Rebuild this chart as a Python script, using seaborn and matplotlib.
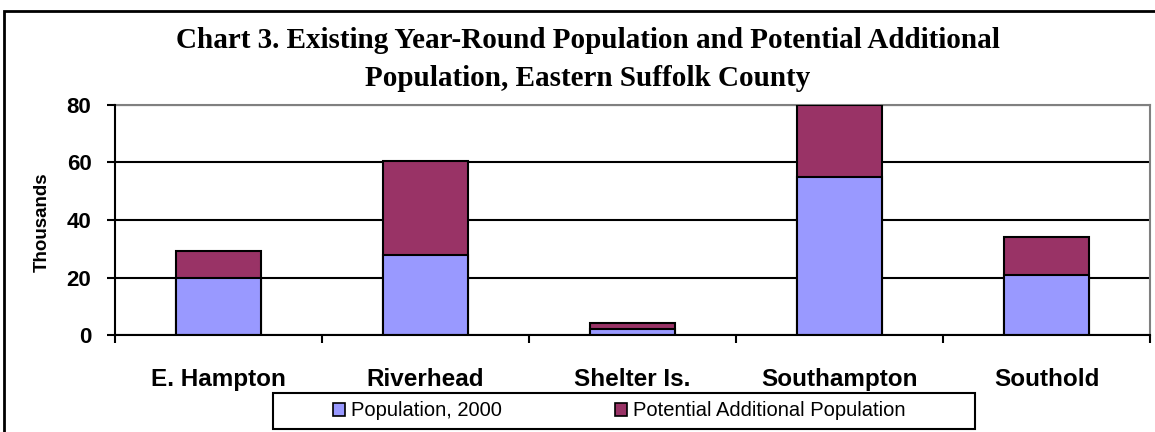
import matplotlib
matplotlib.use("Agg")
import matplotlib.pyplot as plt
from matplotlib.patches import Rectangle, Patch
from matplotlib.ticker import FixedLocator, NullFormatter
import seaborn as sns
import pandas as pd

# Data (thousands of residents)
towns = ["E. Hampton", "Riverhead", "Shelter Is.", "Southampton", "Southold"]
population_2000 = [19.7, 27.9, 2.1, 54.8, 20.9]
potential_additional = [9.5, 32.6, 2.2, 25.2, 13.3]
y_ticks = [0, 20, 40, 60, 80]

totals = [a + b for a, b in zip(population_2000, potential_additional)]
df = pd.DataFrame({"town": towns, "base": population_2000, "total": totals})

BLUE = "#9999FF"
PURPLE = "#993366"

sns.set_style("white")
plt.rcParams["font.family"] = ["Liberation Sans", "DejaVu Sans"]
for key in ("text.color", "axes.labelcolor", "xtick.color", "ytick.color"):
    plt.rcParams[key] = "black"

W, H = 1155, 432
fig = plt.figure(figsize=(W / 100, H / 100), dpi=100)
ax = fig.add_axes([115 / W, 1 - 335 / H, 1035 / W, 230 / H])

# Stacked bars: full height in purple, existing population drawn over it in blue
bar_kw = dict(width=0.41, edgecolor="black", linewidth=1.5, saturation=1, ax=ax)
sns.barplot(data=df, x="town", y="total", color=PURPLE, zorder=3, **bar_kw)
sns.barplot(data=df, x="town", y="base", color=BLUE, zorder=4, **bar_kw)

ax.set_xlim(-0.5, len(towns) - 0.5)
ax.set_ylim(0, 80)
ax.set_yticks(y_ticks)
ax.set_yticklabels([str(v) for v in y_ticks], fontsize=16, fontweight="bold")
ax.yaxis.grid(True, color="black", linewidth=1.5, zorder=0)
ax.set_axisbelow(True)

# Category labels centred, tick marks on category boundaries
ax.set_xticks(range(len(towns)))
ax.set_xticklabels(towns, fontsize=17.5, fontweight="bold")
ax.xaxis.set_minor_locator(FixedLocator([i - 0.5 for i in range(len(towns) + 1)]))
ax.xaxis.set_minor_formatter(NullFormatter())
ax.tick_params(axis="x", which="major", bottom=True, length=0, pad=24)
ax.tick_params(axis="x", which="minor", bottom=True, length=5.5, width=1.5,
               color="black", direction="out")
ax.tick_params(axis="y", which="major", left=True, length=6, width=1.5,
               color="black", direction="out", pad=11)

ax.set_xlabel("")
ax.set_ylabel("Thousands", fontsize=13.5, fontweight="bold", va="center")
ax.yaxis.set_label_coords(-73 / 1035, 0.49)

for side in ("left", "bottom"):
    ax.spines[side].set_color("black")
    ax.spines[side].set_linewidth(1.5)
    ax.spines[side].set_zorder(6)
for side in ("top", "right"):
    ax.spines[side].set_visible(True)
    ax.spines[side].set_color("#808080")
    ax.spines[side].set_linewidth(1.5)

# Title in serif bold, two lines
title_kw = dict(ha="center", va="center", fontsize=21, fontweight="bold",
                family=["Liberation Serif", "DejaVu Serif"])
fig.text(588 / W, 1 - 41 / H,
         "Chart 3. Existing Year-Round Population and Potential Additional", **title_kw)
fig.text(588 / W, 1 - 78 / H, "Population, Eastern Suffolk County", **title_kw)

# Outer chart frame
fig.add_artist(Rectangle((4 / W, -0.05), 1.1, 1 - 11 / H + 0.05,
                         transform=fig.transFigure, fill=False,
                         edgecolor="black", linewidth=2))

# Legend box and entries
fig.add_artist(Rectangle((273 / W, 1 - 429 / H), 702 / W, 36 / H,
                         transform=fig.transFigure, fill=False,
                         edgecolor="black", linewidth=1.5, zorder=5))
handles = [Patch(facecolor=BLUE, edgecolor="black", linewidth=1.2),
           Patch(facecolor=PURPLE, edgecolor="black", linewidth=1.2)]
fig.legend(handles, ["Population, 2000", "Potential Additional Population"],
           loc="center left", bbox_to_anchor=(333 / W, 1 - 411 / H),
           ncol=2, frameon=False, fontsize=14.5, handlelength=0.6, handleheight=0.6,
           handletextpad=0.3, columnspacing=5.6, borderpad=0, borderaxespad=0)

fig.savefig("out.png", dpi=100)
